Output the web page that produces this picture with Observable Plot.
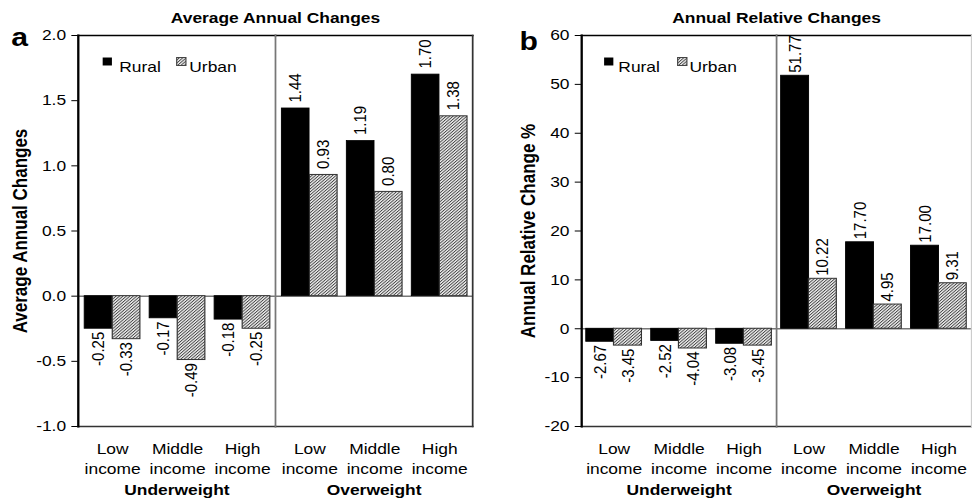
<!DOCTYPE html>
<html><head><meta charset="utf-8">
<script src="https://cdn.jsdelivr.net/npm/d3@7"></script>
<script src="https://cdn.jsdelivr.net/npm/@observablehq/plot@0.6"></script>
<style>
html,body{margin:0;padding:0;background:#fff;overflow:hidden}
#wrap{position:relative;width:972px;height:502px;overflow:hidden;background:#fff}
.panel{position:absolute;top:0}
</style></head>
<body>
<div id="wrap"><div class="panel" id="pa" style="left:0"></div><div class="panel" id="pb" style="left:486px"></div></div>
<script>
// ---- data ----
const groups = ["Underweight", "Overweight"];
const incomes = ["Low", "Middle", "High"];
const series = ["Rural", "Urban"];
const ruralA = [-0.25, -0.17, -0.18, 1.44, 1.19, 1.70];
const urbanA = [-0.33, -0.49, -0.25, 0.93, 0.80, 1.38];
const ruralB = [-2.67, -2.52, -3.08, 51.77, 17.70, 17.00];
const urbanB = [-3.45, -4.04, -3.45, 10.22, 4.95, 9.31];
const yTicksA = [-1, -0.5, 0, 0.5, 1, 1.5, 2];
const yTicksB = [-20, -10, 0, 10, 20, 30, 40, 50, 60];
const titleA = "Average Annual Changes";
const titleB = "Annual Relative Changes";
const yLabelA = "Average Annual Changes";
const yLabelB = "Annual Relative Change %";

function build(rural, urban) {
  const out = [];
  groups.forEach((g, gi) => incomes.forEach((inc, ii) => {
    const k = gi * incomes.length + ii;
    out.push({group: g, income: inc, series: "Rural", value: rural[k]});
    out.push({group: g, income: inc, series: "Urban", value: urban[k]});
  }));
  return out;
}

const S = 1.16, W = 420, H = 502, MT = 35, MB = 76;
const FONT = "'Liberation Sans', Arial, Helvetica, sans-serif";

function panel(o) {
  const data = build(o.rural, o.urban);
  const facetW = (W - o.ml - o.mr) / groups.length;
  const pi = 0.15, po = 0.075;
  const step = facetW / (incomes.length - pi + 2 * po);
  const bw = step * (1 - pi);
  const hatch = `url(#${o.id})`;
  const first = () => groups[0];
  const last = () => groups[groups.length - 1];
  const fillOf = {Rural: "black", Urban: hatch};
  const strokeOf = {Rural: "black", Urban: "#333"};
  const cats = groups.flatMap(g => incomes.map(i => ({group: g, income: i})));
  const valueMarks = [];
  series.forEach((s, si) => {
    const sub = data.filter(d => d.series === s);
    const dx = si === 0 ? -bw / 4 : bw / 4;
    valueMarks.push(Plot.text(sub.filter(d => d.value >= 0), {
      fx: "group", x: "income", y: "value", text: d => d.value.toFixed(2),
      rotate: -90, textAnchor: "start", dx, dy: o.posDy
    }));
    valueMarks.push(Plot.text(sub.filter(d => d.value < 0), {
      fx: "group", x: "income", y: "value", text: d => d.value.toFixed(2),
      rotate: -90, textAnchor: "end", dx, dy: 3
    }));
  });
  const svg = Plot.plot({
    width: W, height: H,
    marginTop: MT, marginBottom: MB, marginLeft: o.ml, marginRight: o.mr,
    style: {fontFamily: FONT, fontSize: "15px", color: "black", background: "white", overflow: "visible"},
    fx: {domain: groups, padding: 0, axis: null},
    x: {domain: incomes, paddingInner: pi, paddingOuter: po, axis: null},
    y: {domain: o.yDomain, ticks: o.yTicks, tickFormat: o.fmt, tickSize: 5.5, tickPadding: 5, label: null},
    marks: [
      Plot.ruleY([0], {stroke: "#777", strokeWidth: 1.5}),
      Plot.barY(data.filter(d => d.series === "Rural"), {
        fx: "group", x: "income", y: "value", fill: fillOf.Rural, stroke: strokeOf.Rural,
        strokeWidth: 0.8, insetRight: bw / 2
      }),
      Plot.barY(data.filter(d => d.series === "Urban"), {
        fx: "group", x: "income", y: "value", fill: fillOf.Urban, stroke: strokeOf.Urban,
        strokeWidth: 1, insetLeft: bw / 2
      }),
      ...valueMarks,
      Plot.frame({anchor: "top", stroke: "black", strokeWidth: 1.6}),
      Plot.frame({anchor: "bottom", stroke: "#333", strokeWidth: 1.5}),
      Plot.frame({anchor: "left", fx: last, stroke: "#777", strokeWidth: 1.5}),
      Plot.frame({anchor: "right", fx: last, stroke: o.rightStroke, strokeWidth: o.rightWidth}),
      Plot.frame({anchor: "left", fx: first, stroke: "black", strokeWidth: 2}),
      // category tick labels
      Plot.text(cats, {fx: "group", x: "income", text: d => `${d.income}\nincome`,
        frameAnchor: "bottom", lineAnchor: "top", dy: 13, lineHeight: 1.33}),
      // group labels
      Plot.text(groups, {fx: d => d, text: d => d, frameAnchor: "bottom", lineAnchor: "top",
        dy: 58, fontWeight: "bold"}),
      // y label
      Plot.text([o.yLabel], {fx: first, text: d => d, frameAnchor: "left", textAnchor: "middle",
        rotate: -90, dx: o.ylabDx, fontWeight: "bold", fontSize: 17}),
      // title
      Plot.text([o.title], {fx: first, text: d => d, frameAnchor: "top-right", textAnchor: "middle",
        lineAnchor: "bottom", dy: -13, fontWeight: "bold", fontSize: 15}),
      // panel letter
      Plot.text([o.letter], {fx: first, text: d => d, frameAnchor: "top-left", textAnchor: "start",
        lineAnchor: "bottom", dx: o.letterDx, dy: o.letterDy, fontWeight: "bold", fontSize: 26}),
      // legend
      Plot.dot([series[0]], {fx: first, frameAnchor: "top-left", dx: o.leg[0], dy: 26,
        symbol: "square", r: 4.5, fill: fillOf.Rural}),
      Plot.text([series[0]], {fx: first, text: d => d, frameAnchor: "top-left", textAnchor: "start",
        dx: o.leg[1], dy: 26}),
      Plot.dot([series[1]], {fx: first, frameAnchor: "top-left", dx: o.leg[2], dy: 26,
        symbol: "square", r: 4.5, fill: fillOf.Urban, stroke: "#444", strokeWidth: 1}),
      Plot.text([series[1]], {fx: first, text: d => d, frameAnchor: "top-left", textAnchor: "start",
        dx: o.leg[3], dy: 26})
    ]
  });
  // hatch pattern
  const defs = d3.select(svg).insert("defs", ":first-child");
  const p = defs.append("pattern").attr("id", o.id).attr("patternUnits", "userSpaceOnUse")
    .attr("width", 2.1).attr("height", 2.1).attr("patternTransform", "rotate(45)");
  p.append("rect").attr("width", 2.1).attr("height", 2.1).attr("fill", "#eeeeee");
  p.append("rect").attr("width", 0.85).attr("height", 2.1).attr("fill", "#444");
  // horizontal stretch like the reference figure
  svg.setAttribute("viewBox", `0 0 ${W} ${H}`);
  svg.setAttribute("preserveAspectRatio", "none");
  svg.setAttribute("width", W * S);
  svg.setAttribute("height", H);
  svg.style.width = (W * S) + "px";
  svg.style.height = H + "px";
  svg.style.maxWidth = "none";
  document.getElementById(o.el).appendChild(svg);
}

panel({
  el: "pa", id: "hatchA", rural: ruralA, urban: urbanA, yDomain: [-1, 2], yTicks: yTicksA,
  fmt: d => d.toFixed(1), title: titleA, yLabel: yLabelA, letter: "a",
  ml: 66.4, mr: 12.2, ylabDx: -49.7, letterDx: -57.8, letterDy: 10,
  leg: [25, 35.3, 88.8, 95.7], posDy: -6, rightStroke: "#333", rightWidth: 1.5
});
panel({
  el: "pb", id: "hatchB", rural: ruralB, urban: urbanB, yDomain: [-20, 60], yTicks: yTicksB,
  fmt: d => String(d), title: titleB, yLabel: yLabelB, letter: "b",
  ml: 81, mr: 1.5, ylabDx: -45.7, letterDx: -53.7, letterDy: 14,
  leg: [23.3, 31.6, 86.7, 92.9], posDy: -3, rightStroke: "#ccc", rightWidth: 1
});
</script>
</body></html>
